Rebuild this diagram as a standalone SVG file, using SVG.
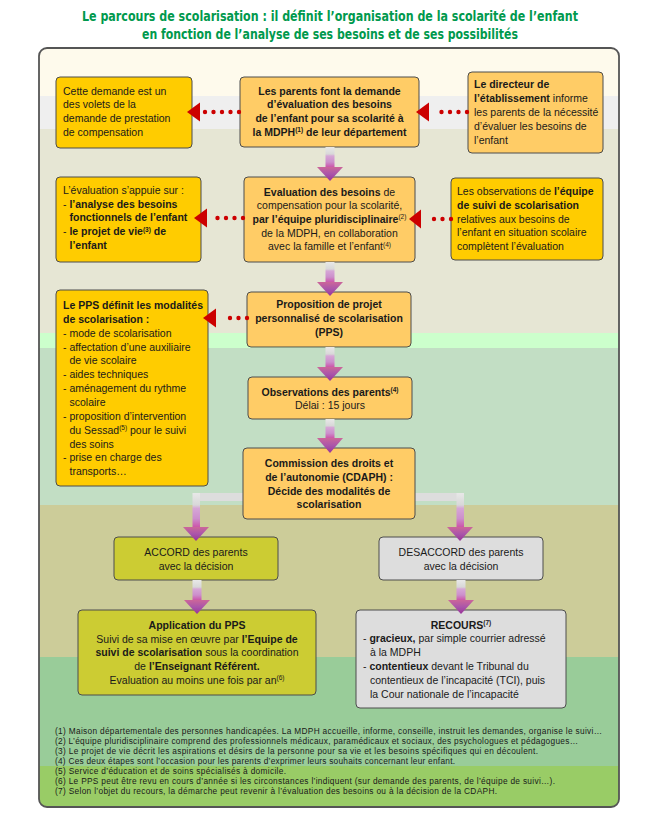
<svg xmlns="http://www.w3.org/2000/svg" width="661" height="832" viewBox="0 0 661 832">
<defs>
<style>
.t{font-family:"Liberation Sans",Arial,sans-serif;font-size:10.5px;fill:#1a1a1a}
.c{text-anchor:middle}
.b{font-weight:bold}
.sup{font-size:6.5px}
.fn{font-family:"Liberation Sans",Arial,sans-serif;font-size:8.3px;fill:#1a1a1a}
.title{font-family:"Liberation Sans Narrow","DejaVu Sans Condensed","Liberation Sans",sans-serif;font-size:14px;font-weight:bold;fill:#00994d;text-anchor:middle}
.box{stroke:#4d4d4d;stroke-width:1}
.orange{fill:#ffcc66}
.yellow{fill:#ffcc00}
.olive{fill:#cccc33}
.grey{fill:#dddddd}
.dots{stroke:#cc0000;stroke-width:4.4;stroke-linecap:round;stroke-dasharray:0 8.5;fill:none}
.head{fill:#cc0000}
.shaft{fill:url(#gShaft)}
.tri{fill:url(#gTri)}
.bar{fill:#dddddd}
</style>
<linearGradient id="gShaft" x1="0" y1="0" x2="0" y2="1">
<stop offset="0" stop-color="#e8e8e8"/>
<stop offset="0.35" stop-color="#d8d8d8"/>
<stop offset="0.45" stop-color="#d6a6d6"/>
<stop offset="0.75" stop-color="#cc8fcc"/>
<stop offset="1" stop-color="#cc55aa"/>
</linearGradient>
<linearGradient id="gTri" x1="0" y1="0" x2="0" y2="1">
<stop offset="0" stop-color="#cc6699"/>
<stop offset="0.5" stop-color="#aa55aa"/>
<stop offset="1" stop-color="#993399"/>
</linearGradient>
<clipPath id="frameClip">
<rect x="39" y="48" width="580" height="759" rx="8"/>
</clipPath>
</defs>

<rect x="0" y="0" width="661" height="832" fill="#ffffff"/>

<g id="title">
<text class="title" x="330" y="21" textLength="496" lengthAdjust="spacingAndGlyphs">Le parcours de scolarisation : il définit l’organisation de la scolarité de l’enfant</text>
<text class="title" x="330" y="39" textLength="376" lengthAdjust="spacingAndGlyphs">en fonction de l’analyse de ses besoins et de ses possibilités</text>
</g>

<g id="background" clip-path="url(#frameClip)">
<rect x="39" y="48" width="580" height="48" fill="#fefaec"/>
<rect x="39" y="96" width="580" height="33" fill="#efefef"/>
<rect x="39" y="129" width="580" height="204" fill="#e6e6d4"/>
<rect x="39" y="333" width="580" height="15" fill="#ccffcc"/>
<rect x="39" y="348" width="580" height="157" fill="#c2dec4"/>
<rect x="39" y="505" width="580" height="152" fill="#cccc99"/>
<rect x="39" y="657" width="580" height="109" fill="#99cc99"/>
<rect x="39" y="766" width="580" height="41" fill="#99cc66"/>
</g>
<rect id="frame" x="39" y="48" width="580" height="759" rx="8" fill="none" stroke="#555555" stroke-width="1.8"/>

<g id="connectors-back">
<rect class="bar" x="193" y="493" width="271" height="8"/>
</g>

<g id="n-demande">
<rect class="box orange" x="240" y="77" width="179" height="70" rx="4"/>
<text class="t c b" x="329.5" y="94.5">Les parents font la demande</text>
<text class="t c b" x="329.5" y="108.2">d’évaluation des besoins</text>
<text class="t c b" x="329.5" y="121.9">de l’enfant pour sa scolarité à</text>
<text class="t c b" x="329.5" y="135.6">la MDPH<tspan class="sup" dy="-3.5">(1)</tspan><tspan dy="3.5"> de leur département</tspan></text>
</g>

<g id="n-volets">
<rect class="box yellow" x="56" y="77" width="136" height="71" rx="4"/>
<text class="t" x="63" y="94.5">Cette demande est un</text>
<text class="t" x="63" y="108.2">des volets de la</text>
<text class="t" x="63" y="121.9">demande de prestation</text>
<text class="t" x="63" y="135.6">de compensation</text>
</g>

<g id="n-directeur">
<rect class="box orange" x="468" y="72" width="135" height="81" rx="4"/>
<text class="t" x="474" y="88"><tspan class="b">Le directeur de</tspan></text>
<text class="t" x="474" y="102"><tspan class="b">l’établissement</tspan> informe</text>
<text class="t" x="474" y="116">les parents de la nécessité</text>
<text class="t" x="474" y="130">d’évaluer les besoins de</text>
<text class="t" x="474" y="144">l’enfant</text>
</g>

<g id="n-evaluation">
<rect class="box orange" x="244" y="177" width="171" height="85" rx="4"/>
<text class="t c" x="329.5" y="195.5"><tspan class="b">Evaluation des besoins</tspan> de</text>
<text class="t c" x="329.5" y="209.2">compensation pour la scolarité,</text>
<text class="t c" x="329.5" y="222.9"><tspan class="b">par l’équipe pluridisciplinaire</tspan><tspan class="sup" dy="-3.5">(2)</tspan></text>
<text class="t c" x="329.5" y="236.6">de la MDPH, en collaboration</text>
<text class="t c" x="329.5" y="250.3">avec la famille et l’enfant<tspan class="sup" dy="-3.5">(4)</tspan></text>
</g>

<g id="n-appuie">
<rect class="box yellow" x="56" y="177" width="145" height="85" rx="4"/>
<text class="t" x="63" y="194">L’évaluation s’appuie sur :</text>
<text class="t" x="63" y="207.7">- <tspan class="b">l’analyse des besoins</tspan></text>
<text class="t b" x="69.5" y="221.4">fonctionnels de l’enfant</text>
<text class="t" x="63" y="235.1">- <tspan class="b">le projet de vie</tspan><tspan class="sup b" dy="-3.5">(3)</tspan><tspan class="b" dy="3.5"> de</tspan></text>
<text class="t b" x="69.5" y="248.8">l’enfant</text>
</g>

<g id="n-observations-equipe">
<rect class="box yellow" x="451" y="178" width="152" height="82" rx="4"/>
<text class="t" x="457" y="195">Les observations de <tspan class="b">l’équipe</tspan></text>
<text class="t b" x="457" y="208.8">de suivi de scolarisation</text>
<text class="t" x="457" y="222.6">relatives aux besoins de</text>
<text class="t" x="457" y="236.4">l’enfant en situation scolaire</text>
<text class="t" x="457" y="250.2">complètent l’évaluation</text>
</g>

<g id="n-proposition">
<rect class="box orange" x="247" y="292" width="164" height="55" rx="4"/>
<text class="t c b" x="329" y="308">Proposition de projet</text>
<text class="t c b" x="329" y="322">personnalisé de scolarisation</text>
<text class="t c b" x="329" y="336">(PPS)</text>
</g>

<g id="n-pps-modalites">
<rect class="box yellow" x="56" y="290" width="152" height="196" rx="4"/>
<text class="t b" x="63" y="309">Le PPS définit les modalités</text>
<text class="t b" x="63" y="322.85">de scolarisation :</text>
<text class="t" x="63" y="336.7">- mode de scolarisation</text>
<text class="t" x="63" y="350.55">- affectation d’une auxiliaire</text>
<text class="t" x="69.5" y="364.4">de vie scolaire</text>
<text class="t" x="63" y="378.25">- aides techniques</text>
<text class="t" x="63" y="392.1">- aménagement du rythme</text>
<text class="t" x="69.5" y="405.95">scolaire</text>
<text class="t" x="63" y="419.8">- proposition d’intervention</text>
<text class="t" x="69.5" y="433.65">du Sessad<tspan class="sup" dy="-3.5">(5)</tspan><tspan dy="3.5"> pour le suivi</tspan></text>
<text class="t" x="69.5" y="447.5">des soins</text>
<text class="t" x="63" y="461.35">- prise en charge des</text>
<text class="t" x="69.5" y="475.2">transports…</text>
</g>

<g id="n-observations-parents">
<rect class="box orange" x="248" y="377" width="164" height="42" rx="4"/>
<text class="t c" x="330" y="395.5"><tspan class="b">Observations des parents</tspan><tspan class="sup b" dy="-3.5">(4)</tspan></text>
<text class="t c" x="330" y="409">Délai : 15 jours</text>
</g>

<g id="n-cdaph">
<rect class="box orange" x="243" y="448" width="172" height="71" rx="4"/>
<text class="t c b" x="329" y="467">Commission des droits et</text>
<text class="t c b" x="329" y="480.8">de l’autonomie (CDAPH) :</text>
<text class="t c b" x="329" y="494.6">Décide des modalités de</text>
<text class="t c b" x="329" y="508.4">scolarisation</text>
</g>

<g id="n-accord">
<rect class="box olive" x="114" y="537" width="164" height="43" rx="4"/>
<text class="t c" x="196" y="556">ACCORD des parents</text>
<text class="t c" x="196" y="569.5">avec la décision</text>
</g>

<g id="n-application">
<rect class="box olive" x="78" y="610" width="238" height="85" rx="4"/>
<text class="t c b" x="197" y="629">Application du PPS</text>
<text class="t c" x="197" y="642.7">Suivi de sa mise en œuvre par <tspan class="b">l’Equipe de</tspan></text>
<text class="t c" x="197" y="656.4"><tspan class="b">suivi de scolarisation</tspan> sous la coordination</text>
<text class="t c" x="197" y="670.1">de <tspan class="b">l’Enseignant Référent.</tspan></text>
<text class="t c" x="197" y="683.8">Evaluation au moins une fois par an<tspan class="sup" dy="-3.5">(6)</tspan></text>
</g>

<g id="n-desaccord">
<rect class="box grey" x="379" y="537" width="164" height="43" rx="4"/>
<text class="t c" x="461" y="556">DESACCORD des parents</text>
<text class="t c" x="461" y="569.5">avec la décision</text>
</g>

<g id="n-recours">
<rect class="box grey" x="356" y="610" width="210" height="98" rx="4"/>
<text class="t c b" x="461" y="628.5">RECOURS<tspan class="sup" dy="-3.5">(7)</tspan></text>
<text class="t" x="363" y="642.35">- <tspan class="b">gracieux,</tspan> par simple courrier adressé</text>
<text class="t" x="370" y="656.2">à la MDPH</text>
<text class="t" x="363" y="670.05">- <tspan class="b">contentieux</tspan> devant le Tribunal du</text>
<text class="t" x="370" y="683.9">contentieux de l’incapacité (TCI), puis</text>
<text class="t" x="370" y="697.75">la Cour nationale de l’incapacité</text>
</g>

<g id="connectors">
<line class="dots" x1="239" y1="112" x2="204" y2="112"/>
<polygon class="head" points="187,112 200,102.5 200,121.5"/>
<line class="dots" x1="467" y1="112" x2="433" y2="112"/>
<polygon class="head" points="416,112 429,102.5 429,121.5"/>
<line class="dots" x1="243" y1="218" x2="209" y2="218"/>
<polygon class="head" points="194,218 207,208.5 207,227.5"/>
<line class="dots" x1="451" y1="219" x2="425.5" y2="219"/>
<polygon class="head" points="409,219 421,209.5 421,228.5"/>
<line class="dots" x1="247" y1="318" x2="221.5" y2="318"/>
<polygon class="head" points="203,318 216,308.5 216,327.5"/>
<rect class="shaft" x="325.5" y="147" width="9" height="20"/>
<polygon class="tri" points="317,167 343,167 330,181"/>
<rect class="shaft" x="325.5" y="262" width="9" height="20"/>
<polygon class="tri" points="317,282 343,282 330,296"/>
<rect class="shaft" x="325.5" y="347" width="9" height="20"/>
<polygon class="tri" points="317,367 343,367 330,381"/>
<rect class="shaft" x="325.5" y="419" width="9" height="19"/>
<polygon class="tri" points="317,438 343,438 330,453"/>
<rect class="shaft" x="192.5" y="493" width="7.5" height="34"/>
<polygon class="tri" points="183,527 209,527 196,541"/>
<rect class="shaft" x="456.5" y="493" width="7.5" height="34"/>
<polygon class="tri" points="447,527 473,527 460,541"/>
<rect class="shaft" x="192.5" y="580" width="9" height="20"/>
<polygon class="tri" points="184,600 210,600 197,614"/>
<rect class="shaft" x="456.5" y="580" width="9" height="20"/>
<polygon class="tri" points="448,600 474,600 461,614"/>
</g>

<g id="footnotes">
<text class="fn" x="55" y="733.5" textLength="547">(1) Maison départementale des personnes handicapées. La MDPH accueille, informe, conseille, instruit les demandes, organise le suivi…</text>
<text class="fn" x="55" y="743.5" textLength="523">(2) L’équipe pluridisciplinaire comprend des professionnels médicaux, paramédicaux et sociaux, des psychologues et pédagogues…</text>
<text class="fn" x="55" y="753.5" textLength="483">(3) Le projet de vie décrit les aspirations et désirs de la personne pour sa vie et les besoins spécifiques qui en découlent.</text>
<text class="fn" x="55" y="763.5" textLength="400">(4) Ces deux étapes sont l’occasion pour les parents d’exprimer leurs souhaits concernant leur enfant.</text>
<text class="fn" x="55" y="773.5" textLength="231">(5) Service d’éducation et de soins spécialisés à domicile.</text>
<text class="fn" x="55" y="783.5" textLength="500">(6) Le PPS peut être revu en cours d’année si les circonstances l’indiquent (sur demande des parents, de l’équipe de suivi…).</text>
<text class="fn" x="55" y="793.5" textLength="442">(7) Selon l’objet du recours, la démarche peut revenir à l’évaluation des besoins ou à la décision de la CDAPH.</text>
</g>
</svg>
